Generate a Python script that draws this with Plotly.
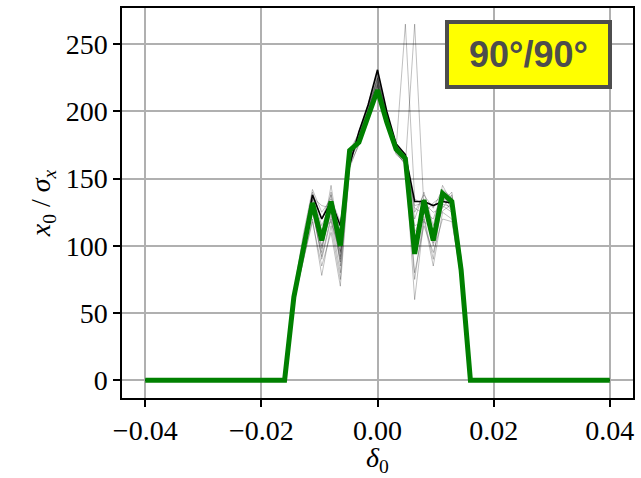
import plotly.graph_objects as go

# delta_0 grid (51 points, -0.04 .. 0.04, step 0.0016)
delta0 = [-0.04, -0.0384, -0.0368, -0.0352, -0.0336, -0.032, -0.0304, -0.0288, -0.0272, -0.0256,
          -0.024, -0.0224, -0.0208, -0.0192, -0.0176, -0.016, -0.0144, -0.0128, -0.0112, -0.0096,
          -0.008, -0.0064, -0.0048, -0.0032, -0.0016, 0.0, 0.0016, 0.0032, 0.0048, 0.0064,
          0.008, 0.0096, 0.0112, 0.0128, 0.0144, 0.016, 0.0176, 0.0192, 0.0208, 0.0224,
          0.024, 0.0256, 0.0272, 0.0288, 0.0304, 0.032, 0.0336, 0.0352, 0.0368, 0.0384, 0.04]

# zero outside the core region (delta from -0.016 to 0.016)
outer_zeros = [0] * 15

# core values, delta = -0.016 ... 0.016
green_core = [0, 62, 96, 132, 104, 133, 100, 171, 177, 197, 216, 192, 172, 165, 94, 134, 104, 139, 133, 82, 0]
black_core = [0, 65, 100, 138, 120, 133, 115, 160, 185, 205, 231, 200, 176, 168, 133, 133, 130, 133, 132, 88, 0]

grey_cores = [
    [0, 62, 100, 135, 110, 130, 95, 168, 180, 200, 222, 195, 172, 265, 135, 130, 110, 135, 130, 85, 0],
    [0, 60, 95, 128, 90, 120, 80, 165, 178, 198, 220, 192, 170, 160, 265, 128, 100, 130, 125, 80, 0],
    [0, 65, 105, 140, 120, 138, 110, 170, 183, 205, 228, 198, 175, 166, 110, 125, 120, 140, 135, 90, 0],
    [0, 58, 90, 120, 78, 115, 75, 160, 175, 195, 215, 190, 168, 162, 60, 120, 85, 125, 120, 75, 0],
    [0, 63, 98, 132, 100, 125, 90, 166, 180, 200, 225, 195, 172, 163, 95, 135, 105, 138, 128, 82, 0],
    [0, 61, 92, 125, 95, 140, 85, 164, 178, 199, 220, 193, 171, 164, 120, 140, 115, 145, 132, 80, 0],
    [0, 64, 102, 137, 115, 132, 105, 169, 182, 203, 226, 197, 174, 165, 130, 132, 125, 128, 138, 88, 0],
    [0, 59, 88, 118, 85, 110, 70, 158, 176, 197, 218, 191, 169, 161, 80, 115, 95, 120, 118, 78, 0],
    [0, 62, 97, 130, 105, 145, 100, 167, 181, 201, 224, 196, 173, 164, 100, 128, 108, 133, 140, 84, 0],
    [0, 60, 94, 127, 92, 122, 88, 163, 177, 198, 219, 192, 170, 162, 75, 122, 90, 135, 126, 80, 0],
    [0, 66, 108, 142, 125, 135, 118, 171, 184, 206, 229, 199, 176, 167, 125, 138, 128, 142, 136, 92, 0],
    [0, 61, 96, 129, 98, 128, 92, 165, 179, 200, 221, 194, 171, 163, 105, 126, 102, 131, 129, 81, 0],
    [0, 63, 99, 134, 112, 118, 96, 167, 181, 202, 223, 196, 173, 164, 115, 118, 112, 126, 131, 86, 0],
    [0, 64, 101, 136, 130, 128, 108, 168, 182, 203, 225, 197, 174, 165, 128, 124, 132, 137, 134, 87, 0],
]

x_ticks = [-0.04, -0.02, 0.0, 0.02, 0.04]
x_tick_labels = ["\u22120.04", "\u22120.02", "0.00", "0.02", "0.04"]
y_ticks = [0, 50, 100, 150, 200, 250]
label_text = "90°/90°"


def full(core):
    return outer_zeros + core + outer_zeros


fig = go.Figure()
for core in grey_cores:
    fig.add_trace(go.Scatter(x=delta0, y=full(core), mode="lines",
                             line=dict(color="rgba(0,0,0,0.25)", width=1),
                             showlegend=False, hoverinfo="skip"))
fig.add_trace(go.Scatter(x=delta0, y=full(black_core), mode="lines",
                         line=dict(color="black", width=1.6), showlegend=False))
fig.add_trace(go.Scatter(x=delta0, y=full(green_core), mode="lines",
                         line=dict(color="#008000", width=5), showlegend=False))

serif = "Liberation Serif, DejaVu Serif, serif"
axis_common = dict(showline=True, mirror=True, linecolor="black", linewidth=1.5,
                   ticks="outside", ticklen=7, tickwidth=1.5, tickcolor="black",
                   showgrid=True, gridcolor="#b0b0b0", gridwidth=1.5, zeroline=False,
                   tickfont=dict(family=serif, size=28, color="black"))

fig.update_layout(
    width=641, height=478,
    margin=dict(l=122, r=6, t=7, b=80),
    paper_bgcolor="white", plot_bgcolor="white",
    xaxis=dict(range=[-0.044, 0.044], tickvals=x_ticks, ticktext=x_tick_labels, **axis_common),
    yaxis=dict(range=[-13.2, 277], tickvals=y_ticks, **axis_common),
    annotations=[
        dict(text="<b>&nbsp;" + label_text + "&nbsp;</b>", xref="paper", yref="paper", x=0.795, y=0.882,
             xanchor="center", yanchor="middle", showarrow=False,
             font=dict(family="Liberation Sans, Arial, sans-serif", size=36, color="#4d4d4d"),
             bgcolor="yellow", bordercolor="#4d4d4d", borderwidth=4, borderpad=10),
        dict(text="<i>δ</i><sub>0</sub>", xref="paper", yref="paper", x=0.5, y=-0.158,
             xanchor="center", yanchor="middle", showarrow=False,
             font=dict(family=serif, size=28, color="black")),
        dict(text="<i>x</i><sub>0</sub> / <i>σ</i><sub><i>x</i></sub>", xref="paper", yref="paper",
             x=-0.156, y=0.5, xanchor="center", yanchor="middle", showarrow=False, textangle=-90,
             font=dict(family=serif, size=28, color="black")),
    ],
)

fig.write_html("out.html", config={"displayModeBar": False},
               post_script="document.body.style.margin='0';")
